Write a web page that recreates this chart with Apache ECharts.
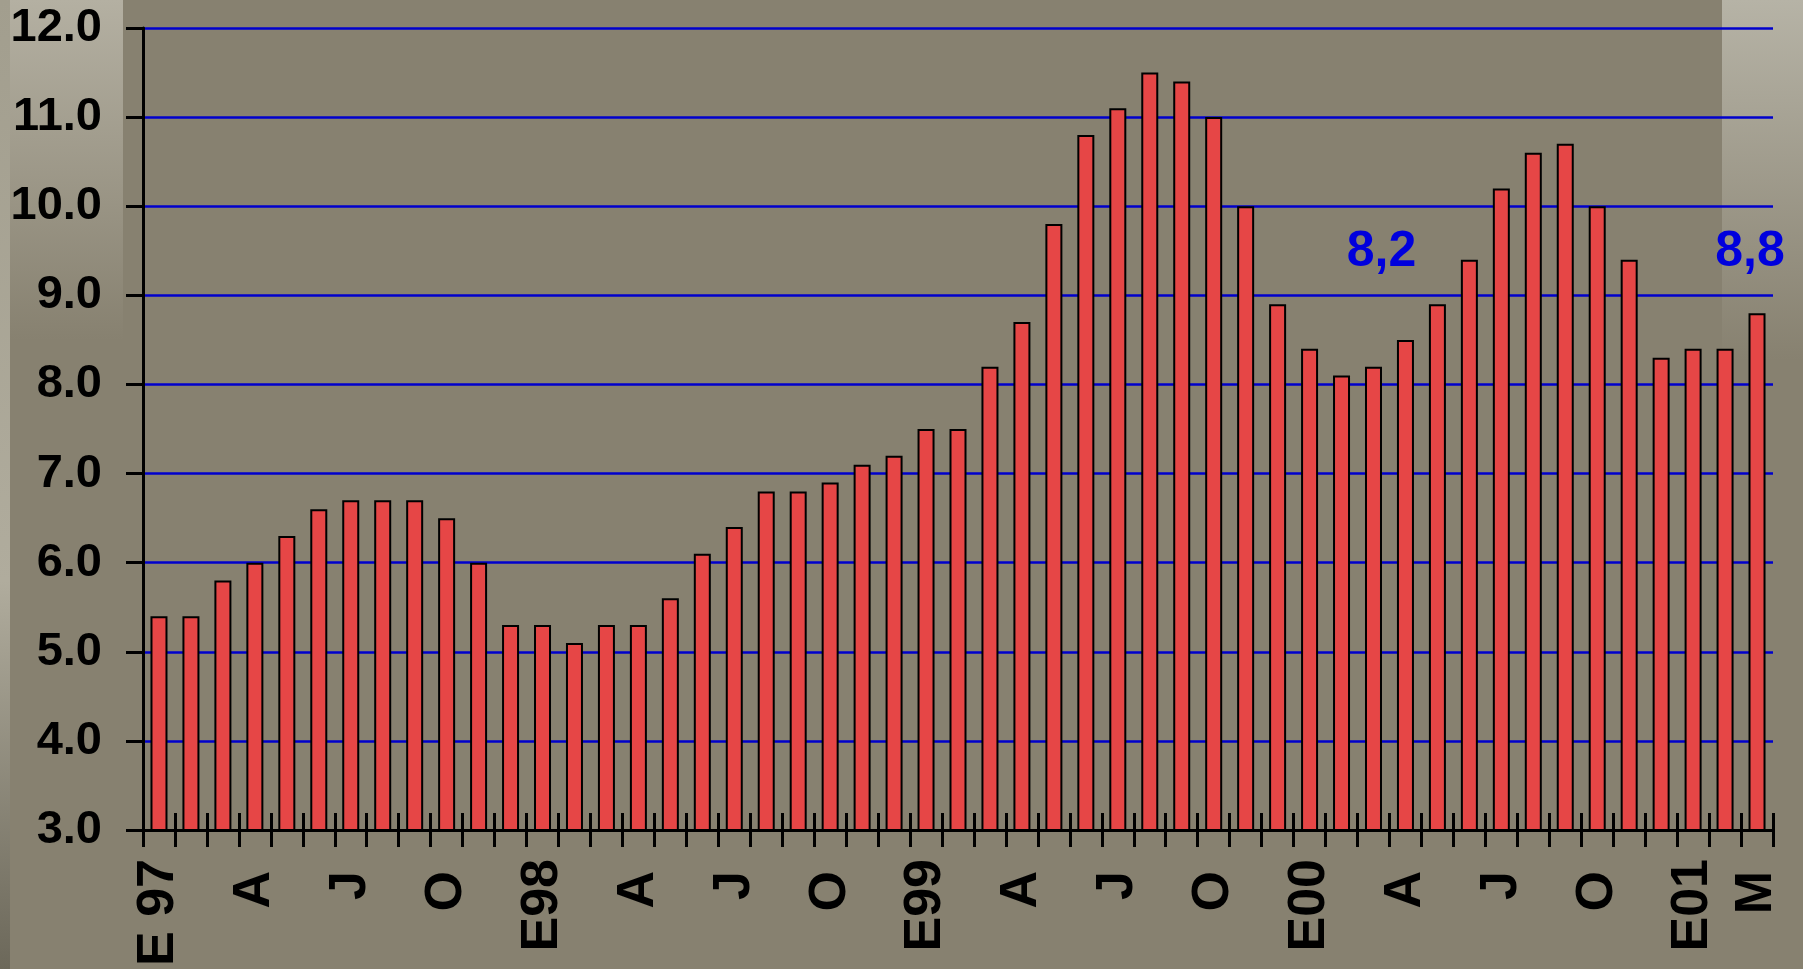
<!DOCTYPE html>
<html>
<head>
<meta charset="utf-8">
<script src="https://cdn.jsdelivr.net/npm/echarts@6/dist/echarts.min.js"></script>
<style>
html,body{margin:0;padding:0;background:#878170;}
#chart{width:1803px;height:969px;}
</style>
</head>
<body>
<div id="chart"></div>
<script>
// Monthly categories Jan 1997 - Mar 2001
const categories = [
  'Jan97','Feb97','Mar97','Apr97','May97','Jun97','Jul97','Aug97','Sep97','Oct97','Nov97','Dec97',
  'Jan98','Feb98','Mar98','Apr98','May98','Jun98','Jul98','Aug98','Sep98','Oct98','Nov98','Dec98',
  'Jan99','Feb99','Mar99','Apr99','May99','Jun99','Jul99','Aug99','Sep99','Oct99','Nov99','Dec99',
  'Jan00','Feb00','Mar00','Apr00','May00','Jun00','Jul00','Aug00','Sep00','Oct00','Nov00','Dec00',
  'Jan01','Feb01','Mar01'
];
const tickLabels = [
  'E 97','','','A','','','J','','','O','','',
  'E98','','','A','','','J','','','O','','',
  'E99','','','A','','','J','','','O','','',
  'E00','','','A','','','J','','','O','','',
  'E01','','M'
];
const values = [
  5.4,5.4,5.8,6.0,6.3,6.6,6.7,6.7,6.7,6.5,6.0,5.3,
  5.3,5.1,5.3,5.3,5.6,6.1,6.4,6.8,6.8,6.9,7.1,7.2,
  7.5,7.5,8.2,8.7,9.8,10.8,11.1,11.5,11.4,11.0,10.0,8.9,
  8.4,8.1,8.2,8.5,8.9,9.4,10.2,10.6,10.7,10.0,9.4,8.3,
  8.4,8.4,8.8
];
const yTicks = [3,4,5,6,7,8,9,10,11,12];
const annotations = [
  { cat: 'Mar00', text: '8,2' },
  { cat: 'Mar01', text: '8,8' }
];

const FONT = '"Liberation Sans", Arial, sans-serif';
const chart = echarts.init(document.getElementById('chart'), null, {renderer: 'canvas'});
const labelMap = {};
categories.forEach((c, i) => { labelMap[c] = tickLabels[i]; });

const option = {
  backgroundColor: '#878170',
  animation: false,
  graphic: [
    { type: 'rect', z: -10, silent: true, shape: {x: 0, y: 0, width: 10, height: 969},
      style: { fill: new echarts.graphic.LinearGradient(0,0,0,1,[
        {offset:0,color:'#a29e8e'},{offset:0.6,color:'#b0ac9d'},{offset:1,color:'#6c685a'}]) } },
    { type: 'rect', z: -10, silent: true, shape: {x: 10, y: 0, width: 113, height: 340},
      style: { fill: new echarts.graphic.LinearGradient(0,0,0,1,[
        {offset:0,color:'#b4b0a2'},{offset:1,color:'#878170'}]) } },
    { type: 'rect', z: -10, silent: true, shape: {x: 1722, y: 0, width: 81, height: 360},
      style: { fill: new echarts.graphic.LinearGradient(0,0,0,1,[
        {offset:0,color:'#b6b3a6'},{offset:1,color:'#878170'}]) } }
  ],
  grid: { left: 143, right: 30, top: 28, bottom: 138, containLabel: false },
  xAxis: [
    {
      type: 'category', data: categories, position: 'bottom', boundaryGap: true,
      axisLine: { show: true, lineStyle: { color: '#000', width: 3 } },
      axisTick: { show: true, inside: false, length: 17, interval: 0, alignWithLabel: false,
        lineStyle: { color: '#000', width: 3 } },
      axisLabel: {
        show: true, interval: 0, rotate: 90, margin: 29, color: '#000',
        fontSize: 52, fontWeight: 'bold', fontFamily: FONT,
        formatter: v => { const t = labelMap[v]; return t.length === 1 ? '{p|' + t + '}' : t; },
        rich: { p: { padding: [0, 12, 0, 0], fontSize: 52, fontWeight: 'bold', fontFamily: FONT, color: '#000' } }
      },
      splitLine: { show: false }
    },
    {
      type: 'category', data: categories, position: 'bottom', boundaryGap: true,
      axisLine: { show: false },
      axisTick: { show: true, inside: true, length: 17, interval: 0, alignWithLabel: false,
        lineStyle: { color: '#000', width: 3 } },
      axisLabel: { show: false },
      splitLine: { show: false }
    }
  ],
  yAxis: {
    type: 'value', min: yTicks[0], max: yTicks[yTicks.length - 1], interval: 1,
    axisLine: { show: true, lineStyle: { color: '#000', width: 3 } },
    axisTick: { show: true, inside: false, length: 17, lineStyle: { color: '#000', width: 3 } },
    axisLabel: { show: true, margin: 41, color: '#000', fontSize: 47, fontWeight: 'bold', fontFamily: FONT,
      formatter: v => v.toFixed(1) },
    splitLine: { show: true, lineStyle: { color: '#0000cc', width: 2.5 } }
  },
  series: [{
    type: 'bar', xAxisIndex: 0, data: values, barWidth: 17,
    itemStyle: { color: '#e64646', borderColor: '#000', borderWidth: 2 },
    markPoint: {
      symbol: 'circle', symbolSize: 0,
      label: { show: true, position: 'inside', color: '#0000dd', fontSize: 50, fontWeight: 'bold', fontFamily: FONT },
      data: annotations.map((a, i) => ({
        coord: [a.cat, 9.48],
        label: { formatter: a.text, offset: [i === 0 ? 8 : -7, 0] }
      }))
    }
  }]
};
chart.setOption(option);
</script>
</body>
</html>
